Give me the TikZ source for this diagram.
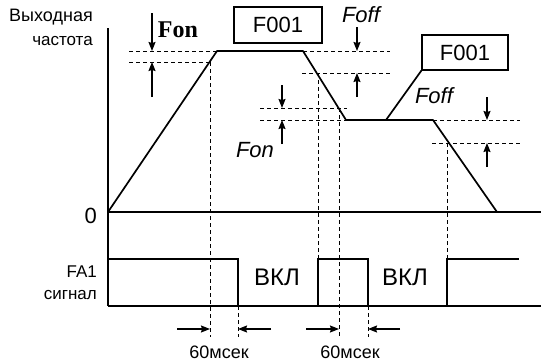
\documentclass[tikz,border=0pt]{standalone}
\usepackage{fontspec}
\setmainfont{Liberation Sans}
\newfontfamily\timesbold{Liberation Serif}
\usetikzlibrary{arrows.meta}

\tikzset{
	guide/.style={dash pattern=on 4pt off 3pt, line width=0.8pt},
	arr/.style={line width=1.2pt, -{Stealth[length=9pt,width=7pt,inset=1pt]}},
	curve/.style={line width=1.7pt},
	signal/.style={line width=1.4pt},
	setbox/.style={draw, line width=1.3pt, minimum width=88pt, minimum height=36pt, inner sep=0pt, font=\fontsize{22}{24}\selectfont},
	lbl/.style={inner sep=0pt, font=\fontsize{17}{19}\selectfont},
	big/.style={inner sep=0pt, font=\fontsize{22}{24}\selectfont},
	flab/.style={inner sep=0pt, font=\fontsize{22}{24}\selectfont\itshape}
}

\begin{document}
\begin{tikzpicture}[x=1pt, y=-1pt]
		\useasboundingbox (0,0) rectangle (541,364);
		
		% Axes
		\coordinate (ytop) at (108,28);
		\coordinate (orig) at (108,212);
		\coordinate (xend) at (541,212);
		\coordinate (ybot) at (108,306);
		\coordinate (send) at (541,306);
		\draw[curve] (ytop) -- (ybot);
		\draw[curve] (orig) -- (xend);
		\draw[signal] (ybot) -- (send);
		
		\node[lbl, font=\fontsize{18}{20}\selectfont, anchor=base east] (yl1) at (93,21) {Выходная};
		\node[lbl, anchor=base east] (yl2) at (93,45) {частота};
		\node[big, anchor=base east] (zero) at (97,223) {0};
		\node[lbl, anchor=base east] (sl1) at (97,277) {FA1};
		\node[lbl, anchor=base east] (sl2) at (97,299) {сигнал};
		
		% Frequency curve
		\coordinate (p1) at (217,51);
		\coordinate (p2) at (303,51);
		\coordinate (p3) at (346,120);
		\coordinate (p4) at (433,120);
		\coordinate (p5) at (497,212);
		\coordinate (q1) at (386,120);
		\draw[curve, line join=round] (orig) -- (p1) -- (p2) -- (p3) -- (p4) -- (p5);
		
		\node[setbox] (set1) at (278,25) {F001};
		\node[setbox, minimum width=86pt, minimum height=35pt] (set2) at (465,52.5) {F001};
		\draw[curve] (q1) -- (set2.south west);
		
		% Levels Fon, Foff
		\draw[guide] (129,51) -- (p1);
		\draw[guide] (129,62) -- (210,62);
		\draw[guide] (p2) -- (390,51);
		\draw[guide] (302,73) -- (390,73);
		\draw[guide] (260,108) -- (347,108);
		\draw[guide] (260,120) -- (p3);
		\draw[guide] (p4) -- (520,120);
		\draw[guide] (432,143) -- (520,143);
		
		% Arrows Fon
		\draw[arr] (152,13) -- (152,51);
		\draw[arr] (152,97) -- (152,62);
		\draw[arr] (282,85) -- (282,108);
		\draw[arr] (282,144) -- (282,120);
		% Arrows Foff
		\draw[arr] (357,27) -- (357,51);
		\draw[arr] (357,97) -- (357,73);
		\draw[arr] (487,97) -- (487,120);
		\draw[arr] (487,167) -- (487,143);
		
		\node[inner sep=0pt, font=\fontsize{24}{26}\timesbold\bfseries, anchor=base] (fon1) at (178,37) {Fon};
		\node[flab, anchor=base] (fon2) at (255,157) {Fon};
		\node[flab, anchor=base] (foff1) at (361,23) {Foff};
		\node[flab, anchor=base] (foff2) at (434,103) {Foff};
		
		% FA1 signal
		\draw[signal] (108,259) -- (238,259) -- (238,306);
		\draw[signal] (318,306) -- (318,259) -- (368,259) -- (368,306);
		\draw[signal] (447,306) -- (447,259) -- (519,259);
		\node[big, font=\fontsize{24}{26}\selectfont, anchor=base] (on1) at (277,285) {ВКЛ};
		\node[big, font=\fontsize{24}{26}\selectfont, anchor=base] (on2) at (405,285) {ВКЛ};
		
		% Time marks
		\draw[guide] (210,62) -- (210,337);
		\draw[guide] (238,306) -- (238,337);
		\draw[guide] (318,73) -- (318,259);
		\draw[guide] (339,108) -- (339,337);
		\draw[guide] (368,306) -- (368,337);
		\draw[guide] (447,143) -- (447,259);
		
		\draw[arr] (177,329) -- (210,329);
		\draw[arr] (271,329) -- (238,329);
		\draw[arr] (306,329) -- (339,329);
		\draw[arr] (400,329) -- (368,329);
		\node[lbl, font=\fontsize{18}{20}\selectfont, anchor=base] (t1) at (219,358) {60мсек};
		\node[lbl, font=\fontsize{18}{20}\selectfont, anchor=base] (t2) at (350,358) {60мсек};
	\end{tikzpicture}
\end{document}
